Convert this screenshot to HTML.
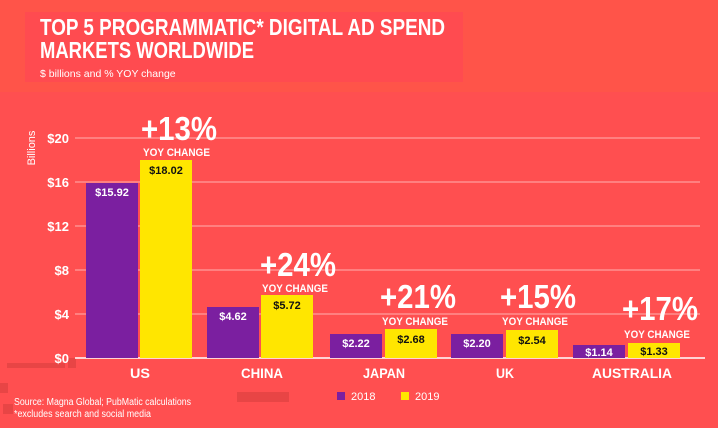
<!DOCTYPE html>
<html><head><meta charset="utf-8"><style>
body{margin:0;background:#ff4f50;}
svg{display:block;font-family:"Liberation Sans",sans-serif;font-weight:bold;}
</style></head><body>
<svg width="718" height="428" viewBox="0 0 718 428" xmlns="http://www.w3.org/2000/svg">
<rect width="718" height="428" fill="#ff4f50"/>
<rect x="0" y="0" width="718" height="92" fill="#ff5449"/>
<rect x="25" y="12" width="438" height="70" fill="#ff4b50"/>
<text x="40" y="35" fill="#fff" font-size="23" textLength="405" lengthAdjust="spacingAndGlyphs">TOP 5 PROGRAMMATIC* DIGITAL AD SPEND</text>
<text x="40" y="58" fill="#fff" font-size="23" textLength="214" lengthAdjust="spacingAndGlyphs">MARKETS WORLDWIDE</text>
<text x="40" y="77" fill="#fff" font-size="10.5" font-weight="normal">$ billions and % YOY change</text>
<rect x="7" y="363" width="58" height="5" fill="#e84545"/>
<rect x="68" y="358" width="8" height="10" fill="#e84545"/>
<rect x="0" y="383" width="8" height="10" fill="#e84545"/>
<rect x="237" y="392" width="52" height="10" fill="#e84545"/>
<rect x="3" y="404" width="10" height="10" fill="#e84545"/>
<g stroke="#ffb0b0" stroke-width="1">
<line x1="75" y1="138" x2="700" y2="138"/><line x1="75" y1="182" x2="700" y2="182"/>
<line x1="75" y1="226" x2="700" y2="226"/><line x1="75" y1="270" x2="700" y2="270"/>
<line x1="75" y1="314" x2="700" y2="314"/>
</g>
<line x1="75" y1="358" x2="705" y2="358" stroke="#fff" stroke-width="1.5"/>
<g fill="#fff" font-size="13" text-anchor="end">
<text x="69" y="143">$20</text><text x="69" y="187">$16</text><text x="69" y="231">$12</text>
<text x="69" y="275">$8</text><text x="69" y="319">$4</text><text x="69" y="363">$0</text>
</g>
<text transform="translate(35,148) rotate(-90)" fill="#fff" font-size="11" font-weight="normal" text-anchor="middle">Billions</text>
<g fill="#7b1fa0">
<rect x="86" y="183" width="52" height="175"/><rect x="207" y="307" width="52" height="51"/>
<rect x="330" y="334" width="52" height="24"/><rect x="451" y="334" width="52" height="24"/>
<rect x="573" y="345" width="52" height="13"/>
</g>
<g fill="#ffe600">
<rect x="140" y="160" width="52" height="198"/><rect x="261" y="295" width="52" height="63"/>
<rect x="385" y="329" width="52" height="29"/><rect x="506" y="330" width="52" height="28"/>
<rect x="628" y="343" width="52" height="15"/>
</g>
<g fill="#fff" font-size="11" text-anchor="middle">
<text x="112" y="196">$15.92</text><text x="233" y="320">$4.62</text><text x="356" y="347">$2.22</text>
<text x="477" y="347">$2.20</text><text x="599" y="356">$1.14</text>
</g>
<g fill="#111" font-size="11" text-anchor="middle">
<text x="166" y="174">$18.02</text><text x="287" y="309">$5.72</text><text x="411" y="343">$2.68</text>
<text x="532" y="344">$2.54</text><text x="654" y="355">$1.33</text>
</g>
<g fill="#fff">
<text x="141" y="140" font-size="33" textLength="76" lengthAdjust="spacingAndGlyphs">+13%</text>
<text x="143" y="156" font-size="11" textLength="67" lengthAdjust="spacingAndGlyphs">YOY CHANGE</text>
<text x="260" y="276" font-size="33" textLength="76" lengthAdjust="spacingAndGlyphs">+24%</text>
<text x="262" y="292" font-size="11" textLength="66" lengthAdjust="spacingAndGlyphs">YOY CHANGE</text>
<text x="380" y="308" font-size="33" textLength="76" lengthAdjust="spacingAndGlyphs">+21%</text>
<text x="382" y="325" font-size="11" textLength="66" lengthAdjust="spacingAndGlyphs">YOY CHANGE</text>
<text x="500" y="308" font-size="33" textLength="76" lengthAdjust="spacingAndGlyphs">+15%</text>
<text x="502" y="325" font-size="11" textLength="66" lengthAdjust="spacingAndGlyphs">YOY CHANGE</text>
<text x="622" y="320" font-size="33" textLength="76" lengthAdjust="spacingAndGlyphs">+17%</text>
<text x="624" y="338" font-size="11" textLength="66" lengthAdjust="spacingAndGlyphs">YOY CHANGE</text>
</g>
<g fill="#fff" font-size="14">
<text x="130" y="378" textLength="20" lengthAdjust="spacingAndGlyphs">US</text>
<text x="241" y="378" textLength="42" lengthAdjust="spacingAndGlyphs">CHINA</text>
<text x="363" y="378" textLength="42" lengthAdjust="spacingAndGlyphs">JAPAN</text>
<text x="496" y="378" textLength="18" lengthAdjust="spacingAndGlyphs">UK</text>
<text x="592" y="378" textLength="80" lengthAdjust="spacingAndGlyphs">AUSTRALIA</text>
</g>
<rect x="337" y="392" width="8" height="8" fill="#7b1fa0"/>
<text x="351" y="400" fill="#fff" font-size="11" font-weight="normal">2018</text>
<rect x="401" y="392" width="8" height="8" fill="#ffe600"/>
<text x="415" y="400" fill="#fff" font-size="11" font-weight="normal">2019</text>
<text x="14" y="405" fill="#fff" font-size="10" font-weight="normal" textLength="177" lengthAdjust="spacingAndGlyphs">Source: Magna Global; PubMatic calculations</text>
<text x="14" y="417" fill="#fff" font-size="10" font-weight="normal" textLength="137" lengthAdjust="spacingAndGlyphs">*excludes search and social media</text>
</svg>
</body></html>
